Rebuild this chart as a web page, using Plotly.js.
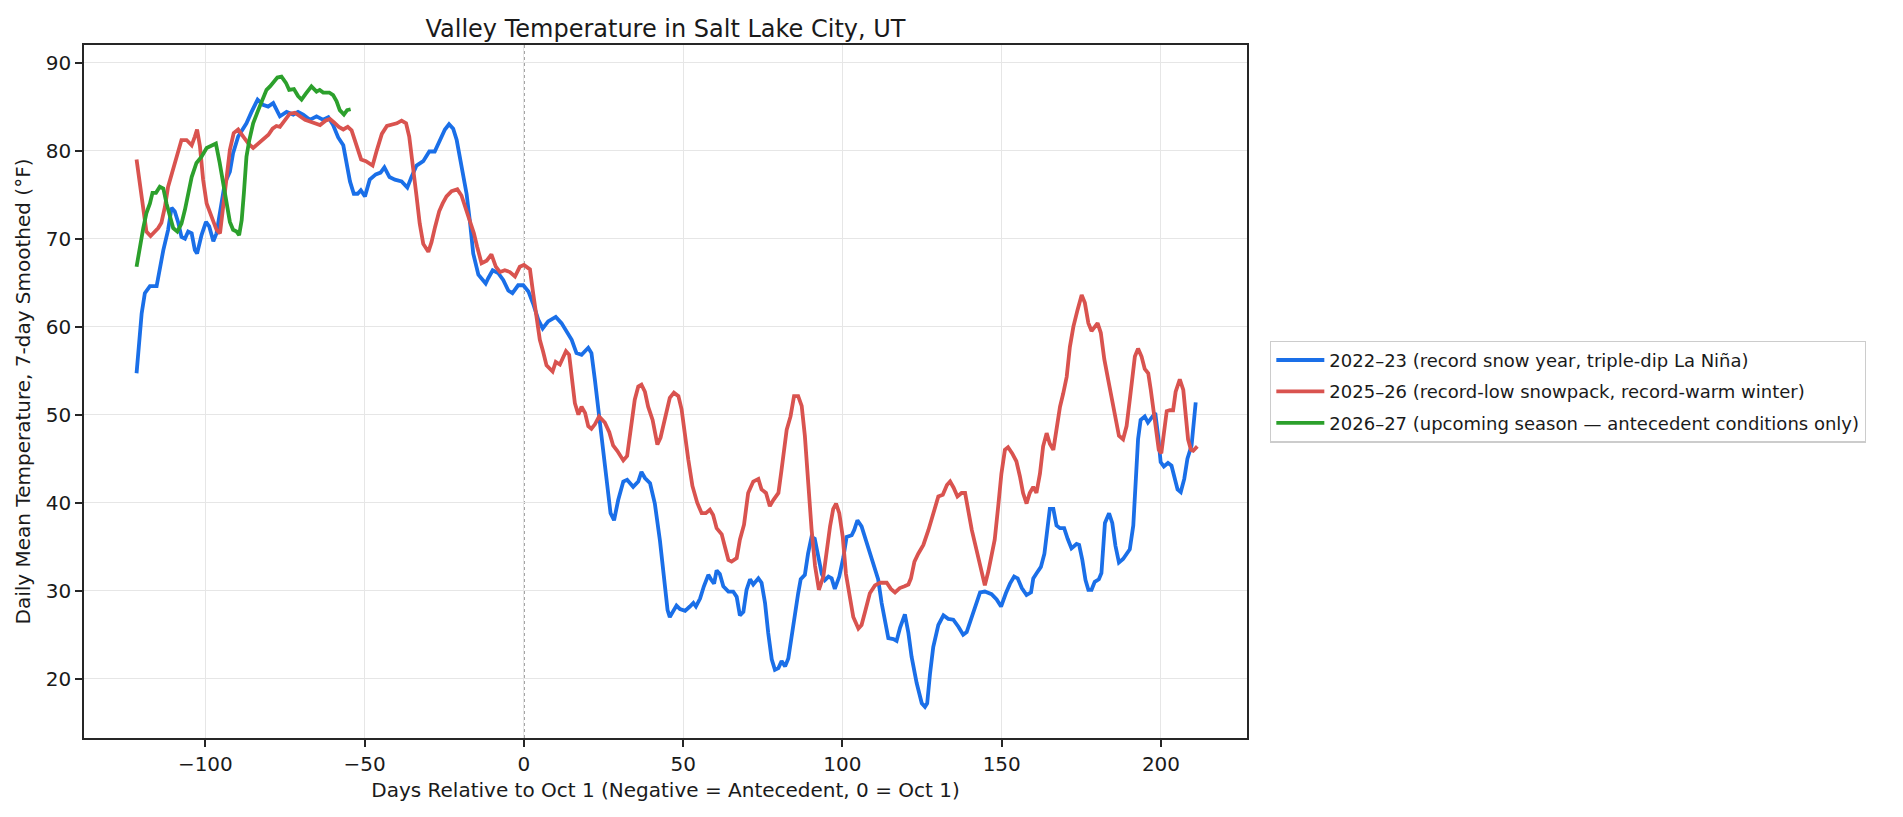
<!DOCTYPE html>
<html>
<head>
<meta charset="utf-8">
<script src="https://cdn.plot.ly/plotly-3.0.1.min.js"></script>
<style>
  html, body { margin: 0; padding: 0; background: #ffffff; }
  #chart { width: 1903px; height: 817px; }
</style>
</head>
<body>
<div id="chart"></div>
<script>
// days relative to Oct 1 and 7-day smoothed mean temperature (°F)

// 2022-23
var days2223 = [
  -121.6,-120,-119,-117.4,-115.3,-114.3,-113.2,-111.7,-110.6,-109.6,
  -108.5,-107.5,-106.4,-105.4,-104.3,-103.3,-102.6,-101.2,-99.8,-98.8,
  -97.5,-96.5,-95.4,-93.9,-92.3,-91.3,-89.7,-88.1,-87.1,-85.5,
  -83.6,-81.9,-80.3,-78.7,-76.6,-74.5,-72.4,-70.9,-69.3,-67.2,
  -65.1,-63.0,-61.4,-59.9,-58.3,-56.7,-55.7,-54.6,-53.4,-52.2,
  -51.2,-49.9,-48.4,-46.5,-45.0,-43.8,-42.2,-40.5,-38.4,-36.6,
  -35.3,-33.7,-31.6,-29.7,-28.0,-26.4,-24.8,-23.5,-22.2,-21.1,
  -20.1,-19.0,-18.0,-17.0,-15.9,-14.3,-12.0,-11.2,-9.8,-8.1,
  -6.5,-4.9,-3.6,-1.8,-0.2,1.4,2.9,4.5,5.9,7.6,
  10.0,11.8,13.4,15.0,16.5,18.1,20.2,21.2,22.3,23.3,
  24.4,25.4,26.5,27.2,28.3,29.6,31.2,32.4,34.3,35.9,
  36.9,38.0,39.6,41.1,42.7,44.3,45.1,45.8,46.9,47.9,
  49.0,50.6,52.1,53.2,54.0,55.3,56.5,57.9,58.9,59.7,
  60.5,61.5,62.6,64.2,65.7,66.8,67.8,68.9,69.9,71.0,
  72.0,73.6,74.6,75.7,76.7,77.8,78.8,79.9,80.9,82.0,
  83.0,84.0,85.1,86.1,86.9,88.2,89.2,90.3,91.3,92.3,
  93.5,94.5,95.6,96.6,97.6,99.0,100.3,101.3,102.9,103.7,
  104.7,106.0,107.1,108.2,109.8,111.2,112.3,113.4,114.4,116.0,
  117.0,118.1,119.6,120.7,121.7,123.3,124.9,125.9,126.6,127.5,
  128.5,130.1,131.7,133.2,134.8,136.4,137.9,139.0,140.6,142.1,
  143.2,144.7,146.8,148.4,149.8,151.3,152.6,153.9,155.0,156.3,
  157.8,159.2,159.9,161.0,162.3,163.4,164.4,165.1,166.2,167.2,
  168.3,169.6,170.7,171.9,173.5,174.3,175.3,176.3,177.2,178.2,
  179.2,180.5,181.3,182.4,183.7,184.7,185.7,186.8,188.1,189.2,
  190.2,191.3,192.0,192.8,193.6,194.9,195.9,197.0,198.2,199.1,
  199.9,200.9,202.2,203.3,204.3,205.2,206.2,207.3,208.3,209.6,
  210.9
];
var temp2223 = [
  54.7,61.5,63.8,64.6,64.6,66.8,68.7,71.0,73.5,73.1,
  71.8,70.2,70.0,70.8,70.6,68.7,68.3,70.4,71.9,71.4,
  69.7,70.6,73.3,76.3,77.6,79.7,81.6,82.6,83.1,84.4,
  85.8,85.2,85.0,85.4,83.9,84.4,84.1,84.4,84.1,83.5,
  83.9,83.5,83.8,82.9,81.5,80.6,78.8,76.5,75.1,75.1,
  75.5,74.8,76.7,77.3,77.5,78.1,77.0,76.7,76.5,75.8,
  77.0,78.3,78.8,79.9,79.9,81.2,82.4,83.0,82.5,81.2,
  79.3,77.4,75.1,72.1,68.3,65.9,64.9,65.5,66.4,66.1,
  65.3,64.1,63.8,64.7,64.7,64.0,62.6,60.8,59.8,60.6,
  61.1,60.4,59.4,58.5,57.0,56.8,57.6,57.0,53.9,50.9,
  47.9,44.9,41.5,38.8,38.0,40.3,42.4,42.6,41.8,42.4,
  43.5,42.8,42.2,39.9,35.7,29.7,27.8,27.0,27.8,28.3,
  27.9,27.7,28.2,28.6,28.2,29.1,30.5,31.8,31.2,30.8,
  32.3,31.9,30.5,29.9,29.9,29.3,27.2,27.6,30.1,31.3,
  30.7,31.4,30.9,28.6,25.2,22.2,21.0,21.2,22.0,21.4,
  22.3,24.8,27.4,29.7,31.3,31.8,34.2,36.1,35.9,34.2,
  31.9,31.2,31.6,31.4,30.2,31.6,33.8,36.1,36.3,36.9,
  38.0,37.3,36.1,34.6,33.1,31.3,28.6,26.3,24.6,24.5,
  24.3,25.8,27.3,25.2,22.5,19.5,17.2,16.8,17.2,20.6,
  23.6,26.1,27.2,26.8,26.7,25.9,25.0,25.3,27.0,28.9,
  29.8,29.9,29.6,29.0,28.2,29.7,30.8,31.6,31.4,30.3,
  29.5,29.8,31.4,32.0,32.7,34.2,37.2,39.3,39.3,37.4,
  37.1,37.1,35.9,34.8,35.3,35.2,33.5,31.2,30.1,30.1,
  31.0,31.3,32.0,37.7,38.8,37.7,35.1,33.2,33.6,34.2,
  34.7,37.4,41.5,47.2,49.4,49.8,49.1,49.7,50.2,47.6,
  44.6,44.1,44.5,44.2,42.7,41.5,41.2,42.7,45.0,46.5,
  51.4
];

// 2025-26
var days2526 = [
  -121.6,-120.6,-119.5,-118.5,-117.2,-115.9,-114.8,-113.8,-112.7,-111.7,
  -110.1,-108.5,-107.5,-105.9,-104.3,-103.3,-102.6,-101.7,-100.7,-99.6,
  -98.1,-96.5,-95.4,-94.4,-93.3,-92.3,-91.1,-89.7,-88.1,-86.5,
  -85.0,-83.4,-81.8,-80.2,-78.9,-77.7,-76.6,-75.0,-73.5,-71.9,
  -70.3,-68.7,-67.2,-65.6,-64.0,-62.3,-60.9,-59.6,-58.1,-56.7,
  -55.3,-54.1,-52.6,-51.1,-49.6,-47.5,-46.2,-44.6,-43.0,-41.5,
  -39.9,-38.4,-37.0,-36.0,-34.9,-33.7,-32.7,-31.6,-30.0,-29.0,
  -27.9,-26.6,-25.5,-24.3,-22.7,-20.9,-19.6,-18.2,-16.9,-15.7,
  -14.7,-13.3,-11.7,-10.2,-8.8,-7.5,-6.0,-4.4,-2.8,-1.3,
  0,1.9,2.9,4.0,5.0,6.0,7.1,9.0,10.0,11.3,
  13.2,14.2,15.0,16.0,17.1,18.1,19.2,20.2,21.2,22.3,
  23.6,25.4,26.8,28.0,29.3,31.2,32.4,33.8,34.8,35.9,
  36.9,38.0,39.0,40.4,41.9,42.9,44.3,45.8,47.1,48.5,
  49.5,50.6,51.6,52.9,54.4,55.8,57.1,58.4,59.4,60.5,
  62.1,63.1,64.2,65.2,66.8,67.8,69.1,70.4,72.0,73.6,
  74.6,76.0,77.2,78.3,79.9,80.8,81.6,82.5,83.7,84.8,
  86.1,87.2,88.2,89.3,90.3,91.4,92.6,94.0,95.0,96.1,
  97.1,98.0,99.0,100.1,101.1,102.4,103.4,105.0,106.0,107.1,
  108.6,110.2,111.8,113.9,115.2,116.5,118.0,119.5,120.7,121.5,
  122.6,123.8,125.4,127.0,128.5,130.1,131.5,132.8,133.8,134.9,
  136.1,137.4,138.5,139.5,140.6,142.1,143.7,144.7,145.8,146.9,
  147.8,148.9,149.9,151.0,152.0,153.3,154.6,155.7,156.7,157.8,
  158.8,159.9,160.9,162.0,163.0,164.1,165.1,166.2,167.2,168.3,
  169.3,170.4,171.4,172.5,173.8,175.1,176.1,177.2,178.2,179.2,
  180.1,181.1,182.2,183.4,184.7,185.7,186.8,188.1,189.2,190.2,
  191.0,191.8,192.8,193.9,194.9,196.0,196.8,197.9,198.6,199.3,
  200.1,201.0,201.8,202.8,203.8,204.6,205.9,207.0,207.7,208.5,
  209.4,210.1,211.4
];
var temp2526 = [
  79.0,76.3,72.9,70.8,70.3,70.8,71.2,71.8,73.6,75.9,
  77.8,79.7,81.2,81.2,80.6,81.6,82.4,80.5,76.7,74.0,
  72.5,71.0,70.6,73.6,77.0,80.1,82.0,82.4,81.6,80.8,
  80.3,80.8,81.2,81.8,82.5,82.8,82.7,83.5,84.2,84.3,
  83.9,83.5,83.3,83.1,82.9,83.4,83.6,83.2,82.7,82.4,
  82.7,82.3,80.6,79.0,78.8,78.3,80.0,81.9,82.8,82.9,
  83.1,83.4,83.1,81.6,78.6,74.8,71.7,69.4,68.5,69.6,
  71.3,73.1,74.0,74.8,75.4,75.6,74.9,73.4,72.1,70.6,
  69.1,67.2,67.5,68.2,66.8,66.2,66.4,66.2,65.7,66.8,
  67.0,66.5,63.8,60.8,58.5,57.2,55.6,54.9,56.0,55.7,
  57.2,56.8,54.7,51.3,50.0,50.9,50.2,48.7,48.4,48.9,
  49.8,49.1,48.0,46.5,45.9,44.8,45.3,48.7,51.7,53.2,
  53.4,52.6,50.9,49.4,46.6,47.4,49.8,51.9,52.5,52.1,
  50.6,47.5,44.9,41.9,40.0,38.8,38.8,39.2,38.6,37.1,
  36.4,35.0,33.5,33.3,33.7,35.8,37.5,41.1,42.4,42.7,
  41.5,41.1,39.6,40.3,41.1,43.5,46.0,48.3,49.8,52.1,
  52.1,51.0,47.6,41.5,37.0,32.8,30.1,31.6,34.6,37.3,
  39.3,39.9,38.8,36.1,31.9,28.9,27.0,25.7,26.1,27.6,
  29.7,30.6,30.9,30.9,30.2,29.8,30.3,30.5,30.7,31.4,
  33.3,34.2,35.2,36.9,38.8,40.7,40.9,42.0,42.4,41.7,
  40.7,41.1,41.1,38.8,36.9,34.6,32.0,30.6,32.2,34.0,
  35.8,39.6,43.3,46.0,46.3,45.6,44.7,43.0,41.1,39.9,
  41.1,41.8,41.1,43.3,46.4,47.9,46.7,46.0,48.3,50.9,
  52.4,54.3,57.7,60.0,61.9,63.6,62.7,60.4,59.5,60.0,
  60.4,59.3,56.3,54.0,51.7,49.5,47.6,47.2,48.7,51.7,
  54.7,56.6,57.5,56.6,55.2,54.7,52.8,49.8,47.2,46.0,
  45.6,47.9,50.4,50.5,50.5,52.6,54.0,52.8,50.2,47.2,
  46.0,45.9,46.4
];

// 2026-27 (antecedent only)
var days2627 = [
  -121.6,-120.6,-119.5,-118.5,-117.4,-116.6,-115.5,-114.3,-113.2,-112.2,
  -111.1,-110.1,-108.8,-107.5,-106.4,-105.4,-104.3,-102.8,-101.2,-99.6,
  -98.1,-96.7,-95.5,-94.4,-93.4,-92.3,-91.3,-90.2,-89.4,-88.6,
  -87.9,-87.1,-86.2,-85.0,-83.4,-82.1,-80.8,-79.7,-78.7,-77.4,
  -76.1,-74.7,-73.7,-72.2,-70.9,-69.8,-68.4,-66.7,-65.1,-64.1,
  -63.0,-61.1,-59.9,-58.8,-57.8,-56.5,-55.5,-54.4
];
var temp2627 = [
  66.8,69.1,71.2,72.9,74.0,75.2,75.2,75.9,75.7,74.0,
  72.5,71.2,70.8,71.7,73.3,75.2,77.0,78.6,79.3,80.3,
  80.6,80.8,78.6,76.3,73.6,71.9,71.0,70.8,70.4,72.1,
  75.2,79.3,81.2,83.1,84.6,85.8,86.9,87.3,87.8,88.3,
  88.4,87.7,86.9,87.0,86.2,85.8,86.5,87.3,86.7,86.9,
  86.6,86.6,86.3,85.6,84.6,84.1,84.6,84.7
];

var seasonNames = [
  '2022\u201323 (record snow year, triple-dip La Ni\u00f1a)',
  '2025\u201326 (record-low snowpack, record-warm winter)',
  '2026\u201327 (upcoming season \u2014 antecedent conditions only)'
];
var seasonColors = ['#1a6fe8', '#d9534f', '#2ca02c'];

var font = 'DejaVu Sans, Liberation Sans, sans-serif';

function makeTrace(x, y, i) {
  return {
    x: x,
    y: y,
    name: seasonNames[i],
    legendgroup: 'g' + i,
    type: 'scatter',
    mode: 'lines',
    line: { color: seasonColors[i], width: 3.8 },
    hoverinfo: 'skip'
  };
}

var data = [
  makeTrace(days2223, temp2223, 0),
  makeTrace(days2526, temp2526, 1),
  makeTrace(days2627, temp2627, 2)
];

var axisCommon = {
  showline: true,
  mirror: true,
  linecolor: '#262626',
  linewidth: 1.7,
  ticks: 'outside',
  ticklen: 7,
  tickwidth: 1.7,
  tickcolor: '#262626',
  showgrid: true,
  gridcolor: '#e6e6e6',
  gridwidth: 1.4,
  zeroline: false,
  tickfont: { family: font, size: 20, color: '#1a1a1a' }
};

var layout = {
  width: 1903,
  height: 817,
  paper_bgcolor: '#ffffff',
  plot_bgcolor: '#ffffff',
  margin: { l: 84, r: 656, t: 45, b: 79 },
  font: { family: font, color: '#1a1a1a' },
  title: {
    text: 'Valley Temperature in Salt Lake City, UT',
    font: { family: font, size: 24, color: '#1a1a1a' },
    x: 0.5,
    xref: 'paper',
    xanchor: 'center',
    y: 0.965,
    yanchor: 'middle'
  },
  xaxis: Object.assign({}, axisCommon, {
    range: [-138.1, 227.0],
    tickmode: 'array',
    tickvals: [-100, -50, 0, 50, 100, 150, 200],
    title: {
      text: 'Days Relative to Oct 1 (Negative = Antecedent, 0 = Oct 1)',
      font: { family: font, size: 20, color: '#1a1a1a' },
      standoff: 8
    }
  }),
  yaxis: Object.assign({}, axisCommon, {
    range: [13.26, 92.0],
    tickmode: 'array',
    tickvals: [20, 30, 40, 50, 60, 70, 80, 90],
    title: {
      text: 'Daily Mean Temperature, 7-day Smoothed (\u00b0F)',
      font: { family: font, size: 20, color: '#1a1a1a' },
      standoff: 10
    }
  }),
  shapes: [{
    type: 'line',
    xref: 'x', yref: 'paper',
    x0: 0, x1: 0, y0: 0, y1: 1,
    line: { color: '#808080', width: 1.6, dash: 'dot' },
    layer: 'below'
  }],
  showlegend: true,
  legend: {
    x: 1.0198,
    xanchor: 'left',
    y: 0.5,
    yanchor: 'middle',
    bgcolor: '#ffffff',
    bordercolor: '#cccccc',
    borderwidth: 1.3,
    tracegroupgap: 5,
    itemwidth: 48,
    font: { family: font, size: 18, color: '#1a1a1a' }
  }
};

Plotly.newPlot('chart', data, layout, { displayModeBar: false, responsive: false });
</script>
</body>
</html>
